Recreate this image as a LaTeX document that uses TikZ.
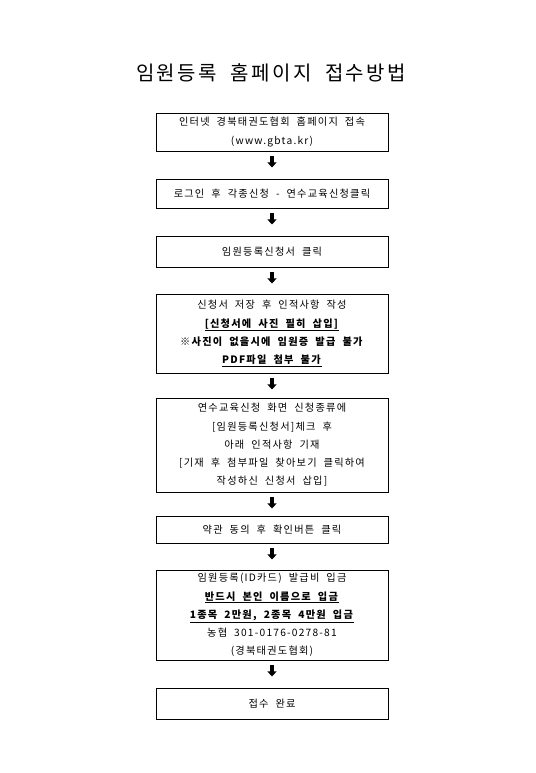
\documentclass[tikz,border=0pt]{standalone}
\usepackage{fontspec}
\setmainfont{Noto Sans CJK KR}[LetterSpace=12, WordSpace=2]
\usetikzlibrary{arrows.meta,positioning}

\begin{document}
\begin{tikzpicture}[
    x=1pt, y=-1pt,
    stepbox/.style={draw=black, line width=0.9pt, minimum width=232pt, align=center, font=\fontsize{10.2}{18.2}\selectfont, inner sep=0pt},
    flowarrow/.style={line width=3.5pt, -{Triangle[width=9pt,length=5pt]}, shorten <=5pt}
]
\useasboundingbox (0,0) rectangle (535,773);

% Title
\node[font=\fontsize{20}{22}\selectfont] (title) at (271,73) {임원등록 홈페이지 접수방법};

% Boxes
\node[stepbox, minimum height=38pt] (b1) at (272,132) {인터넷 경북태권도협회 홈페이지 접속\\(www.gbta.kr)};
\node[stepbox, minimum height=29pt] (b2) at (272,193.5) {로그인 후 각종신청 - 연수교육신청클릭};
\node[stepbox, minimum height=31pt] (b3) at (272,251.5) {임원등록신청서 클릭};
\node[stepbox, minimum height=79pt] (b4) at (272,333.5) {신청서 저장 후 인적사항 작성\\
    \underline{\textbf{[신청서에 사진 필히 삽입]}}\\
    \textbf{※사진이 없을시에 임원증 발급 불가}\\
    \underline{\textbf{PDF파일 첨부 불가}}};
\node[stepbox, minimum height=94pt] (b5) at (272,445) {연수교육신청 화면 신청종류에\\
    {[}임원등록신청서]체크 후\\
    아래 인적사항 기재\\
    {[}기재 후 첨부파일 찾아보기 클릭하여\\
    작성하신 신청서 삽입]};
\node[stepbox, minimum height=27pt] (b6) at (272,529.5) {약관 동의 후 확인버튼 클릭};
\node[stepbox, minimum height=90pt] (b7) at (272,615) {임원등록(ID카드) 발급비 입금\\
    \underline{\textbf{반드시 본인 이름으로 입금}}\\
    \underline{\textbf{1종목 2만원, 2종목 4만원 입금}}\\
    농협 301-0176-0278-81\\
    (경북태권도협회)};
\node[stepbox, minimum height=31pt] (b8) at (272,703.5) {접수 완료};

% Arrows
\foreach \a in {b1, b2, b3, b4, b5, b6, b7}
    \draw[flowarrow] (\a.south) -- ++(0,16);

\end{tikzpicture}
\end{document}
